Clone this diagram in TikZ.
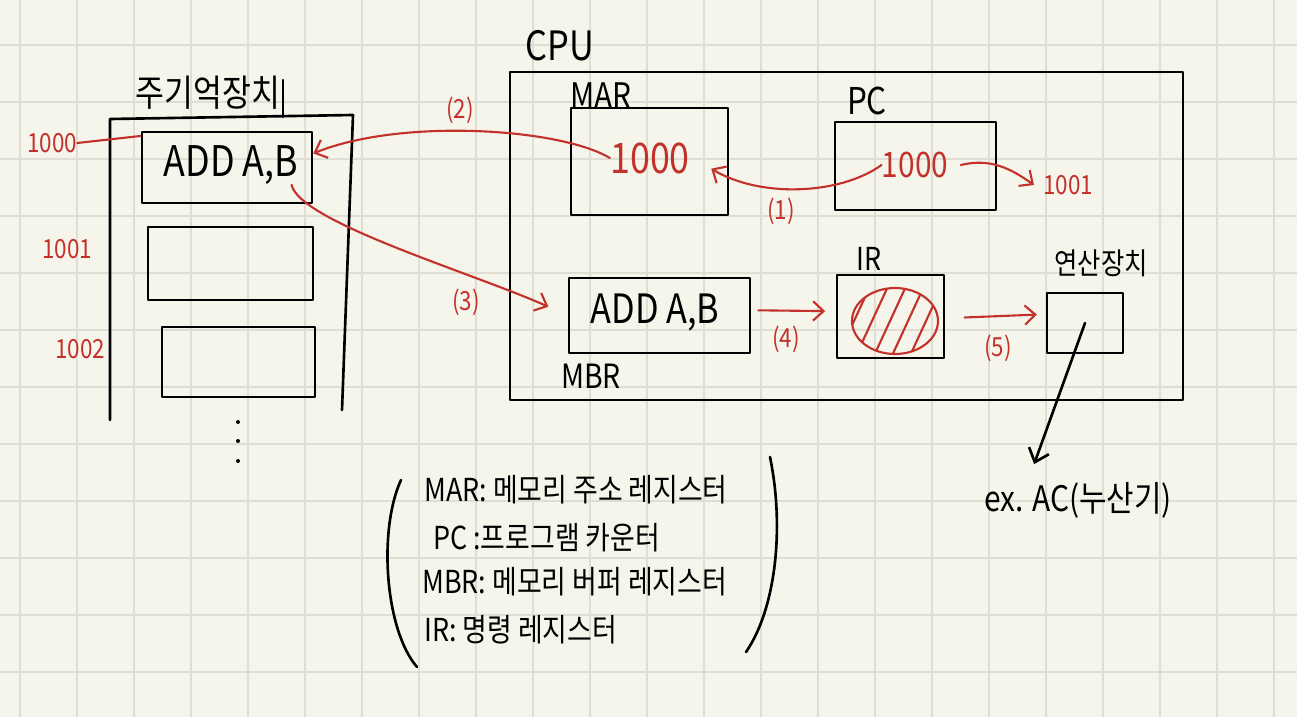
\documentclass[tikz,border=0pt]{standalone}
\usepackage{fontspec}
\setmainfont{Noto Sans CJK KR}[FakeStretch=0.85]
\usetikzlibrary{arrows.meta,fit}
\definecolor{paper}{RGB}{246,245,236}
\definecolor{gridgray}{RGB}{223,222,212}
\definecolor{penred}{RGB}{194,50,42}
\tikzset{
	ink/.style={draw=black, line width=1.5pt, line cap=round, line join=round},
	redink/.style={draw=penred, line width=1.2pt, line cap=round, line join=round},
	redarrow/.style={redink, -{Straight Barb[length=6pt,width=11pt]}},
	inkarrow/.style={ink, -{Straight Barb[length=7pt,width=12pt]}},
	reg/.style={ink, inner sep=0pt},
	hand/.style={inner sep=0pt, font=\fontsize{#1}{#1}\selectfont},
	redhand/.style={hand=#1, text=penred}
}
\begin{document}
\begin{tikzpicture}[x=0.02cm, y=-0.02cm]
	\fill[paper] (0,0) rectangle (1297,717);
	\useasboundingbox (0,0) rectangle (1297,717);
	\foreach \x in {0,...,22}
		\draw[gridgray, line width=1pt] (20+57*\x,0) -- (20+57*\x,717);
	\foreach \y in {0,...,12}
		\draw[gridgray, line width=1pt] (0,45+57*\y) -- (1297,45+57*\y);

	\node[hand=21] (memlabel) at (208,93) {주기억장치};
	\draw[ink] (283,80) -- (283,117);
	\draw[ink] (110,420) -- (110,119) -- (353,115) -- (342,410);
	\node[reg, fit={(142,132) (312,203)}] (cell1) {};
	\node[reg, fit={(148,227) (313,300)}] (cell2) {};
	\node[reg, fit={(162,327) (315,397)}] (cell3) {};
	\node[hand=24] (cell1txt) at (231,165) {ADD A,B};
	\foreach \y in {422,441,461}
		\fill (238,\y) circle (2);
	\node[redhand=15] (addr1) at (52,143) {1000};
	\node[redhand=15] (addr2) at (67,249) {1001};
	\node[redhand=15] (addr3) at (80,349) {1002};
	\draw[redink] (addr1.east) -- ([yshift=-3pt]cell1.north west);

	\node[hand=23, anchor=west] (cpulabel) at (525,46) {CPU};
	\node[reg, fit={(510,72) (1183,400)}] (cpu) {};
	\node[hand=20] (marlabel) at (601,96) {MAR};
	\node[reg, fit={(571,108) (728,215)}] (mar) {};
	\node[redhand=24] (marval) at (650,158) {1000};
	\node[hand=21] (pclabel) at (867,101) {PC};
	\node[reg, fit={(835,122) (996,210)}] (pc) {};
	\node[redhand=20] (pcval) at (915,165) {1000};
	\node[redhand=15] (pcnext) at (1068,185) {1001};
	\node[reg, fit={(569,278) (750,353)}] (mbr) {};
	\node[hand=23] (mbrtxt) at (655,313) {ADD A,B};
	\node[hand=19] (mbrlabel) at (591,376) {MBR};
	\node[hand=18] (irlabel) at (869,259) {IR};
	\node[reg, fit={(837,275) (944,358)}] (ir) {};
	\node[hand=17] (alulabel) at (1101,263) {연산장치};
	\node[reg, fit={(1047,293) (1123,353)}] (alu) {};
	\node[hand=20] (ac) at (1078,500) {ex. AC(누산기)};

	\begin{scope}
		\clip (895,321) ellipse [x radius=43, y radius=33];
		\foreach \x in {836,854,...,944}
			\draw[redink] (\x,360) -- (\x+36,282);
	\end{scope}
	\draw[redink] (895,321) ellipse [x radius=43, y radius=33];

	\draw[redarrow] (marval.west) .. controls (560,128) and (400,118) .. ([yshift=8pt]cell1.east);
	\node[redhand=15] (lbl2) at (460,110) {(2)};
	\draw[redarrow] ([xshift=-4pt]cell1txt.south east) .. controls (300,222) and (470,272) .. ([xshift=-11pt,yshift=5pt]mbr.west);
	\node[redhand=15] (lbl3) at (466,302) {(3)};
	\draw[redarrow] (pcval.west) .. controls (840,195) and (760,198) .. ([xshift=12pt,yshift=3pt]marval.south east);
	\node[redhand=15] (lbl1) at (781,211) {(1)};
	\draw[redarrow] ([xshift=7pt]pcval.east) .. controls (990,158) and (1010,168) .. ([xshift=-5pt]pcnext.west);
	\draw[redarrow, shorten <=4pt, shorten >=6pt] ([yshift=3pt]mbr.east) -- ([yshift=3pt]ir.west);
	\node[redhand=15] (lbl4) at (786,339) {(4)};
	\draw[redarrow, shorten <=11pt, shorten >=5pt] ([yshift=-1pt]ir.east) -- ([yshift=5pt]alu.west);
	\node[redhand=15] (lbl5) at (998,348) {(5)};
	\draw[inkarrow] (alu.center) -- ([xshift=-25pt,yshift=10pt]ac.north);

	\node[hand=18, anchor=west] (legmar) at (424,490) {MAR: 메모리 주소 레지스터};
	\node[hand=18, anchor=west] (legpc) at (433,538) {PC :프로그램 카운터};
	\node[hand=18, anchor=west] (legmbr) at (422,582) {MBR: 메모리 버퍼 레지스터};
	\node[hand=18, anchor=west] (legir) at (424,630) {IR: 명령 레지스터};
	\draw[ink] (401,480) .. controls (378,530) and (385,630) .. (417,667);
	\draw[ink] (770,457) .. controls (785,530) and (775,610) .. (746,652);
\end{tikzpicture}
\end{document}
